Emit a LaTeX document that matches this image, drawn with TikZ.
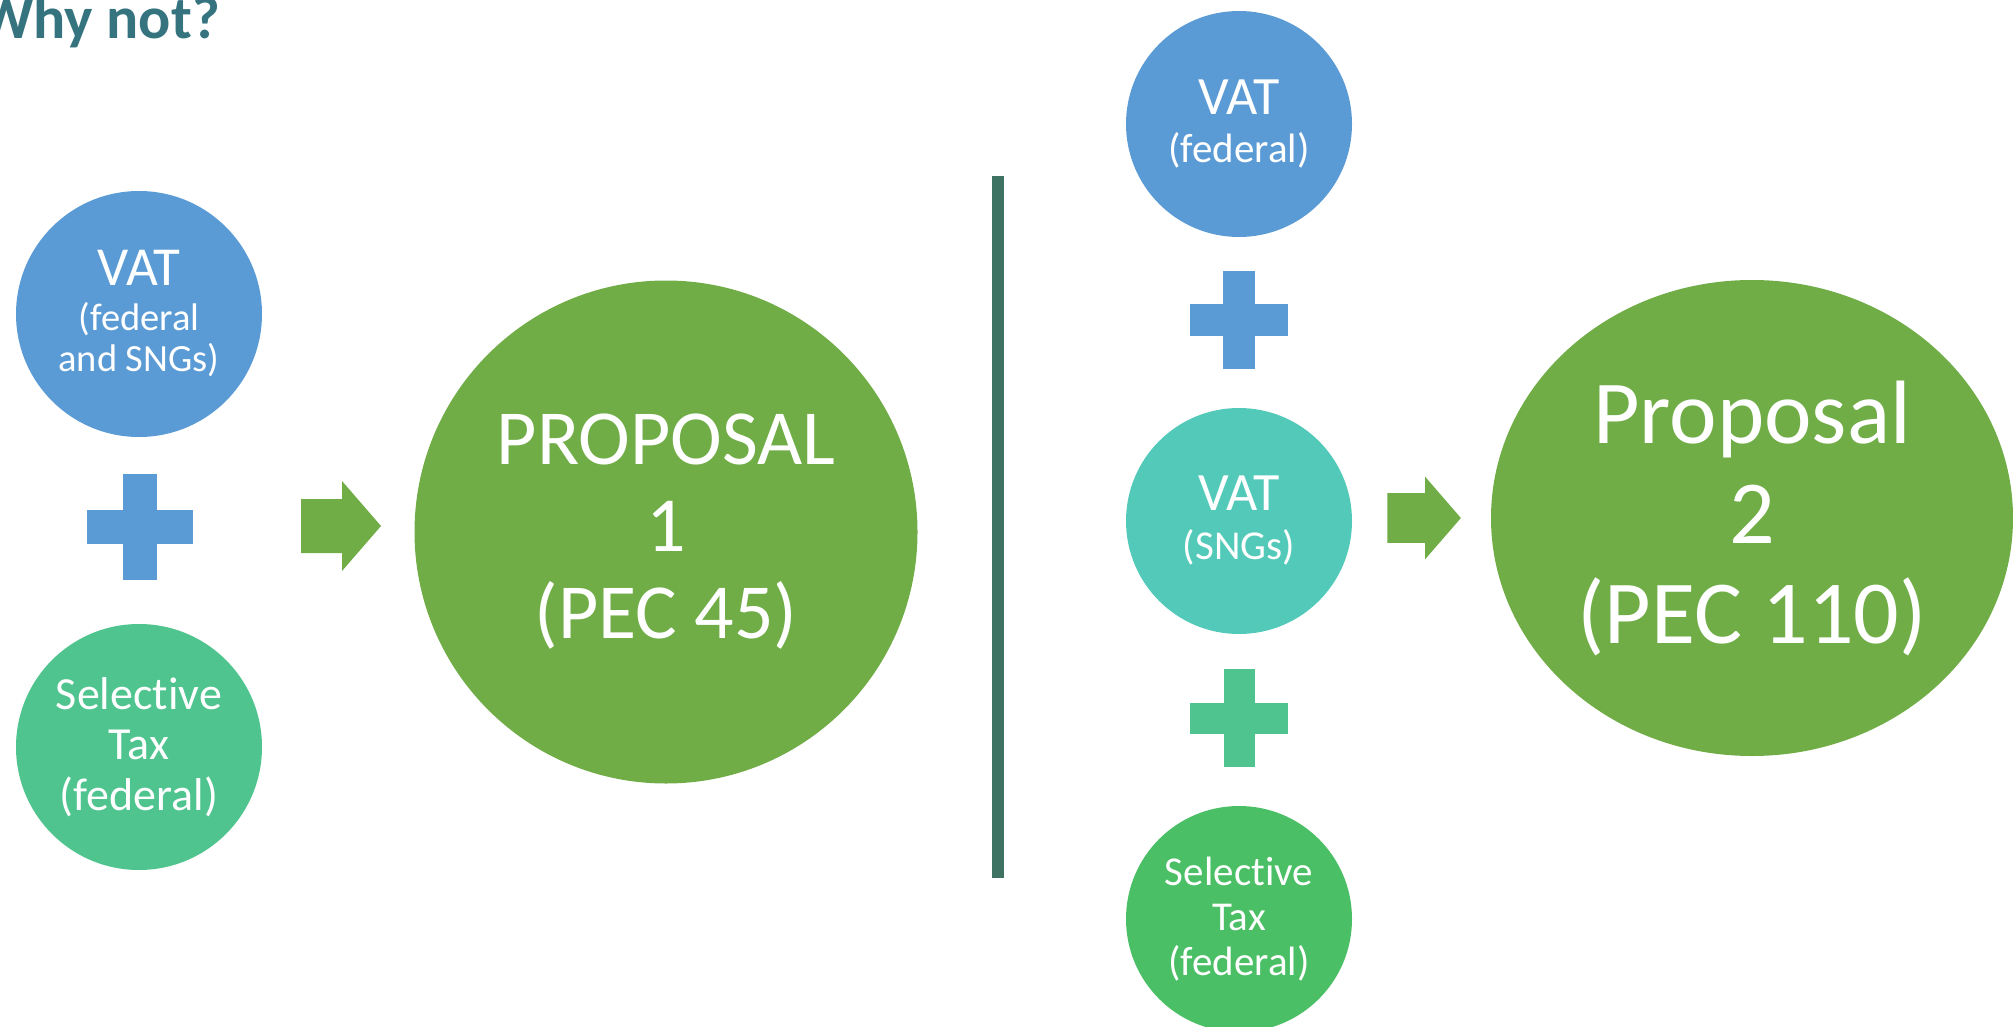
\documentclass[tikz,border=0pt]{standalone}
\usepackage{fontspec}
\setmainfont{Carlito}[Ligatures=NoCommon]
\usetikzlibrary{shapes.geometric}
\definecolor{vatblue}{HTML}{5B9BD5}
\definecolor{selgreen}{HTML}{50C48F}
\definecolor{selgreen2}{HTML}{4BBF65}
\definecolor{sngteal}{HTML}{53CAB9}
\definecolor{propgreen}{HTML}{70AD47}
\definecolor{divider}{HTML}{3E7263}
\definecolor{heading}{HTML}{35737F}
\tikzset{
  pics/plus/.style 2 args={
    code={%
      \fill (-#1,-#2) rectangle (#1,#2);
      \fill (-#2,-#1) rectangle (#2,#1);
    }
  },
  pics/blockarrow/.style={
    code={%
      \fill (-41,-27) -- (0,-27) -- (0,-45) -- (39,0) -- (0,45) -- (0,27) -- (-41,27) -- cycle;
    }
  },
}

\begin{document}
\begin{tikzpicture}[
      x=1pt,y=-1pt,
      bubble/.style={circle, inner sep=0pt, text=white, align=center},
      small/.style={minimum size=226pt, font=\fontsize{41}{45}\selectfont},
      large/.style={minimum size=246pt, font=\fontsize{38.5}{41}\selectfont},
      ]
      \useasboundingbox (0,0) rectangle (2013,1027);
      \clip (0,0) rectangle (2013,1027);

      \node[anchor=base west, inner sep=0pt, text=heading,
        font=\fontsize{60}{70}\selectfont\bfseries] (title) at (-21,39) {Why not?};

      % PEC 45
      \node[bubble, large, fill=vatblue] (vatall) at (139,314)
        {{\fontsize{55}{50}\selectfont VAT}\\[4pt](federal\\and SNGs)};
      \path (139.5,527) pic[vatblue]{plus={53}{17}};
      \node[bubble, large, fill=selgreen, font=\fontsize{46}{50.5}\selectfont] (seltaxa) at (139,747)
        {Selective\\Tax\\(federal)};
      \path (342,526) pic[propgreen]{blockarrow};
      \node[bubble, minimum size=503pt, fill=propgreen, font=\fontsize{78}{87}\selectfont] (propa) at (666,532)
        {PROPOSAL\\1\\(PEC 45)};

      \draw[divider, line width=12pt] (998,176) -- (998,878);

      % PEC 110
      \node[bubble, small, fill=vatblue] (vatfed) at (1239,124)
        {{\fontsize{54}{50}\selectfont VAT}\\[3pt](federal)};
      \path (1239,320) pic[vatblue]{plus={49}{16}};
      \node[bubble, small, fill=sngteal] (vatsng) at (1239,521)
        {{\fontsize{54}{50}\selectfont VAT}\\[4pt](SNGs)};
      \path (1239,718) pic[selgreen]{plus={49}{15.5}};
      \node[bubble, small, fill=selgreen2, font=\fontsize{41}{45}\selectfont] (seltaxb) at (1239,919)
        {Selective\\Tax\\(federal)};
      \path (1425,518) pic[propgreen, scale=0.92]{blockarrow};
      \node[ellipse, inner sep=0pt, minimum width=522pt, minimum height=476pt, fill=propgreen,
        text=white, align=center, font=\fontsize{90}{100}\selectfont] (propb) at (1752,518)
        {Proposal\\2\\(PEC 110)};
\end{tikzpicture}
\end{document}
